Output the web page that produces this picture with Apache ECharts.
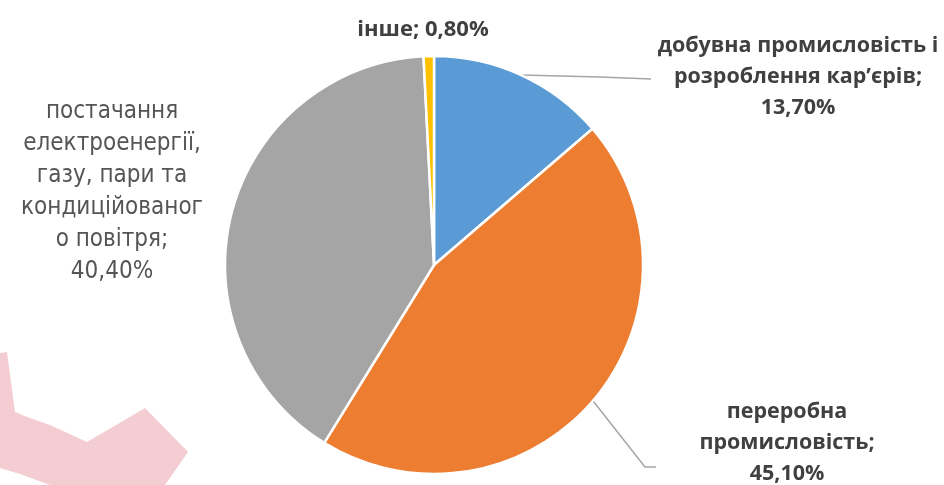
<!DOCTYPE html>
<html>
<head>
<meta charset="utf-8">
<script src="https://cdn.jsdelivr.net/npm/echarts@6/dist/echarts.min.js"></script>
<style>
  html, body { margin: 0; padding: 0; background: #fff; }
  #chart { width: 944px; height: 485px; }
</style>
</head>
<body>
<div id="chart"></div>
<script>
const categories = [
  'добувна промисловість і розроблення кар’єрів',
  'переробна промисловість',
  'постачання електроенергії, газу, пари та кондиційованого повітря',
  'інше'
]
const values = [13.7, 45.1, 40.4, 0.8]
// label text as wrapped in the original
const labelTexts = [
  'добувна промисловість і\nрозроблення кар’єрів;\n13,70%',
  'переробна\nпромисловість;\n45,10%',
  'постачання\nелектроенергії,\nгазу, пари та\nкондиційованог\nо повітря;\n40,40%',
  'інше; 0,80%'
]
const colors = ['#5b9bd5', '#ed7d31', '#a5a5a5', '#ffc000']

// where each label sits, and the bend of its leader line
const labelPlaces = [
  { x: 798, y: 77, line: [[600, 77], [651, 79]] },
  { x: 787, y: 443, line: [[645, 467], [656, 467]] },
  { x: 112, y: 192, line: null },
  { x: 423, y: 30, line: null }
]

const chart = echarts.init(document.getElementById('chart'))

const boldLabel = {
  fontFamily: 'Open Sans',
  fontWeight: 'bold',
  fontSize: 21.5,
  lineHeight: 31,
  color: '#404040',
  align: 'center'
}

const option = {
  backgroundColor: '#fff',
  animation: false,
  graphic: [
    {
      type: 'polygon',
      z: -1,
      shape: {
        points: [[0, 353], [7, 352], [15, 412], [27, 417], [50, 425], [87, 442],
          [145, 408], [188, 452], [165, 485], [50, 485], [20, 474], [0, 468]]
      },
      style: { fill: '#f4cdd2' }
    }
  ],
  series: [
    {
      type: 'pie',
      center: [434, 265],
      radius: 209,
      startAngle: 90,
      clockwise: true,
      itemStyle: { borderColor: '#fff', borderWidth: 2.5 },
      labelLine: { show: true, lineStyle: { color: '#a6a6a6', width: 1.5 } },
      data: categories.map((name, i) => ({
        name,
        value: values[i],
        itemStyle: { color: colors[i] },
        label: i === 2
          ? {
              formatter: labelTexts[i],
              fontFamily: 'DejaVu Sans Condensed',
              fontSize: 24,
              lineHeight: 32,
              color: '#555555',
              align: 'center',
              overflow: 'none'
            }
          : Object.assign({ formatter: labelTexts[i], overflow: 'none' }, boldLabel, i === 3 ? { fontSize: 22 } : {}),
        labelLine: { show: !!labelPlaces[i].line }
      })),
      label: { position: 'outside', overflow: 'none' }
    }
  ],
  emphasis: { disabled: true }
}

option.series[0].labelLayout = function (params) {
  const p = labelPlaces[params.dataIndex]
  const res = { x: p.x, y: p.y, align: 'center', verticalAlign: 'middle' }
  if (p.line && params.labelLinePoints) {
    res.labelLinePoints = [params.labelLinePoints[0], p.line[0], p.line[1]]
  }
  return res
}

chart.setOption(option)
</script>
</body>
</html>
